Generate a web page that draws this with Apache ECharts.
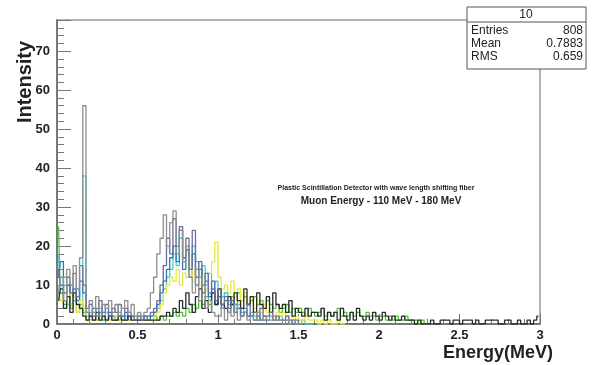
<!DOCTYPE html>
<html>
<head>
<meta charset="utf-8">
<style>
  html, body { margin: 0; padding: 0; background: #fff; }
  #chart { width: 592px; height: 365px; }
</style>
<script src="https://cdn.jsdelivr.net/npm/echarts@6/dist/echarts.min.js"></script>
</head>
<body>
<div id="chart"></div>
<script>
// histogram bins: 0 .. 3 MeV, width 0.02
var binWidth = 0.02;
var xTicks = ["0", "0.5", "1", "1.5", "2", "2.5", "3"];
var yTicks = ["0", "10", "20", "30", "40", "50", "60", "70"];

// counts per bin (missing bins at the end are empty)
var grayCounts = [
  8, 12, 6, 14, 10, 15, 9, 17, 56, 3,
  6, 3, 7, 2, 5, 4, 6, 3, 5, 2,
  4, 6, 3, 5, 2, 3, 2, 3, 4, 8,
  12, 18, 22, 28, 20, 26, 29, 18, 24, 16,
  20, 12, 8, 14, 6, 10, 4, 6, 3, 2,
  2, 4, 1, 3, 2, 5, 1, 2, 3, 1,
  2, 1, 3, 1, 2, 1, 1, 2, 1, 1,
  0, 1, 0, 1, 0, 0
];
var purpleCounts = [
  14, 10, 6, 12, 8, 13, 7, 15, 10, 4,
  5, 2, 4, 6, 3, 5, 2, 4, 3, 5,
  2, 4, 3, 2, 1, 2, 1, 2, 2, 3,
  4, 6, 10, 15, 22, 18, 27, 20, 25, 17,
  22, 14, 24, 12, 16, 10, 13, 8, 11, 6,
  9, 5, 7, 4, 6, 3, 4, 2, 3, 5,
  2, 3, 1, 4, 2, 2, 3, 1, 2, 1,
  1, 2, 1, 0, 1, 0
];
var cyanCounts = [
  18, 8, 12, 5, 10, 6, 9, 4, 38, 2,
  3, 1, 2, 4, 1, 3, 2, 1, 2, 3,
  1, 2, 1, 2, 1, 1, 2, 1, 1, 2,
  3, 4, 6, 9, 12, 14, 18, 15, 22, 17,
  19, 14, 20, 16, 12, 15, 10, 13, 8, 11,
  9, 7, 8, 5, 6, 4, 5, 3, 4, 2,
  3, 2, 3, 1, 2, 1, 2, 1, 1, 2,
  1, 1, 0, 1, 0, 0, 1, 0, 0, 0
];
var blueCounts = [
  12, 16, 8, 10, 5, 9, 6, 11, 8, 3,
  2, 4, 1, 3, 2, 1, 3, 2, 1, 2,
  1, 3, 1, 2, 1, 1, 1, 2, 1, 2,
  3, 5, 8, 11, 14, 17, 20, 16, 24, 14,
  19, 12, 18, 10, 14, 8, 11, 7, 9, 5,
  7, 4, 6, 3, 5, 3, 4, 2, 3, 2,
  2, 1, 2, 1, 1, 1
];
var yellowCounts = [
  10, 6, 4, 8, 5, 7, 3, 6, 4, 1,
  1, 2, 1, 1, 2, 1, 1, 1, 2, 1,
  1, 1, 1, 1, 2, 1, 1, 1, 1, 1,
  2, 3, 5, 8, 10, 12, 11, 14, 10, 13,
  12, 15, 11, 14, 10, 12, 9, 13, 16, 21,
  12, 9, 10, 8, 11, 7, 9, 6, 8, 5,
  7, 4, 6, 3, 5, 3, 4, 2, 3, 2,
  3, 2, 2, 1, 2, 1, 1, 2, 1, 1,
  1, 0, 1, 0, 1, 0, 0, 1, 0, 0
];
var greenCounts = [
  25, 8, 5, 10, 4, 7, 3, 5, 3, 1,
  1, 1, 2, 1, 1, 1, 2, 1, 1, 1,
  2, 1, 1, 1, 1, 2, 1, 1, 1, 1,
  2, 1, 2, 1, 2, 2, 3, 2, 3, 2,
  4, 3, 5, 4, 6, 5, 7, 5, 8, 6,
  9, 7, 8, 6, 7, 5, 8, 6, 7, 5,
  6, 7, 5, 6, 4, 6, 5, 4, 5, 3,
  4, 5, 3, 4, 3, 4, 3, 2, 4, 3,
  2, 3, 4, 2, 3, 2, 3, 4, 2, 3,
  2, 3, 2, 3, 2, 2, 3, 2, 2, 1,
  2, 2, 1, 2, 1, 2, 1, 1, 2, 1,
  1, 1, 0, 1, 0, 0
];
var blackCounts = [
  6, 9, 4, 7, 3, 8, 5, 4, 2, 1,
  2, 1, 3, 1, 2, 1, 2, 1, 1, 2,
  1, 1, 2, 1, 1, 1, 1, 1, 1, 1,
  1, 1, 2, 2, 3, 2, 4, 3, 6, 4,
  8, 5, 3, 7, 9, 4, 6, 3, 8, 5,
  9, 5, 4, 7, 5, 8, 6, 4, 9, 5,
  7, 3, 8, 5, 4, 7, 3, 8, 5, 4,
  5, 3, 6, 2, 4, 3, 2, 4, 2, 3,
  3, 2, 4, 1, 3, 2, 3, 1, 4, 2,
  1, 3, 1, 4, 2, 1, 2, 1, 3, 2,
  1, 3, 2, 1, 2, 1, 1, 2, 1, 1,
  1, 0, 1, 0, 0, 0, 1, 0, 0, 1,
  1, 1, 0, 1, 1, 0, 1, 1, 1, 0,
  1, 0, 0, 1, 1, 1, 1, 0, 0, 1,
  1, 0, 0, 1, 0, 0, 1, 0, 1, 2
];

var FONT = "'Liberation Sans', Arial, sans-serif";

// 把计数转成 [x, y]，x 取 bin 中心
function toPoints(counts) {
  return counts.map(function (v, i) {
    return [+(binWidth * i + binWidth / 2).toFixed(3), v];
  });
}

function histSeries(name, counts, color) {
  return {
    name: name,
    type: "line",
    step: "middle",
    symbol: "none",
    silent: true,
    data: toPoints(counts),
    lineStyle: { color: color, width: 1.3 },
  };
}

var myChart = echarts.init(document.getElementById("chart"), null, { renderer: "canvas" });

var option = {
  animation: false,
  backgroundColor: "#fff",
  grid: {
    left: 57,
    right: 52,
    top: 20,
    bottom: 41,
    show: true,
    borderColor: "#666",
    borderWidth: 1,
  },
  xAxis: {
    type: "value",
    min: 0,
    max: 3,
    interval: 0.5,
    axisLine: { onZero: false, lineStyle: { color: "#777", width: 2 } },
    axisTick: { inside: true, length: 10, lineStyle: { color: "#777" } },
    minorTick: { show: true, splitNumber: 5, length: 5, lineStyle: { color: "#777" } },
    splitLine: { show: false },
    axisLabel: {
      margin: 5,
      color: "#222",
      fontFamily: FONT,
      fontWeight: "bold",
      fontSize: 13,
      formatter: function (v) {
        var idx = Math.round(v / 0.5);
        return xTicks[idx] || "";
      },
    },
  },
  yAxis: {
    type: "value",
    min: 0,
    max: 78,
    interval: 10,
    axisLine: { show: true, onZero: false, lineStyle: { color: "#777", width: 2 } },
    axisTick: { show: true, inside: true, length: 14, lineStyle: { color: "#777" } },
    minorTick: { show: true, splitNumber: 5, length: 7, lineStyle: { color: "#777" } },
    splitLine: { show: false },
    axisLabel: {
      margin: 7,
      showMaxLabel: false,
      color: "#222",
      fontFamily: FONT,
      fontWeight: "bold",
      fontSize: 13,
      formatter: function (v) {
        var idx = Math.round(v / 10);
        return v % 10 === 0 ? (yTicks[idx] || "") : "";
      },
    },
  },
  series: [
    histSeries("green", greenCounts, "#55c23c"),
    histSeries("cyan", cyanCounts, "#3ccfd6"),
    histSeries("blue", blueCounts, "#3274b4"),
    histSeries("yellow", yellowCounts, "#e9e83a"),
    histSeries("black", blackCounts, "#2b2b2b"),
    histSeries("purple", purpleCounts, "#6c6c9e"),
    histSeries("gray", grayCounts, "#8e8e8e"),
  ],
  graphic: [
    // axis titles
    {
      type: "text",
      x: 25,
      y: 82,
      rotation: Math.PI / 2,
      style: {
        text: "Intensity",
        fill: "#222",
        font: "bold 20px " + FONT,
        align: "center",
        verticalAlign: "middle",
      },
    },
    {
      type: "text",
      x: 553,
      y: 353,
      style: {
        text: "Energy(MeV)",
        fill: "#222",
        font: "bold 18px " + FONT,
        align: "right",
        verticalAlign: "middle",
      },
    },
    // in-plot captions
    {
      type: "text",
      x: 376,
      y: 188,
      style: {
        text: "Plastic Scintillation Detector with wave length shifting fiber",
        fill: "#222",
        font: "bold 7px " + FONT,
        align: "center",
        verticalAlign: "middle",
      },
    },
    {
      type: "text",
      x: 381,
      y: 201,
      style: {
        text: "Muon Energy - 110 MeV - 180 MeV",
        fill: "#222",
        font: "bold 10px " + FONT,
        align: "center",
        verticalAlign: "middle",
      },
    },
    // stats box
    {
      type: "group",
      children: [
        {
          type: "rect",
          shape: { x: 467, y: 7, width: 119, height: 62 },
          style: { fill: "#fff", stroke: "#555", lineWidth: 1 },
        },
        {
          type: "line",
          shape: { x1: 467, y1: 22, x2: 586, y2: 22 },
          style: { stroke: "#555", lineWidth: 1 },
        },
        { type: "text", x: 526, y: 15, style: { text: "10", fill: "#222", font: "12px " + FONT, align: "center", verticalAlign: "middle" } },
        { type: "text", x: 471, y: 31, style: { text: "Entries", fill: "#222", font: "12px " + FONT, verticalAlign: "middle" } },
        { type: "text", x: 583, y: 31, style: { text: "808", fill: "#222", font: "12px " + FONT, align: "right", verticalAlign: "middle" } },
        { type: "text", x: 471, y: 44, style: { text: "Mean", fill: "#222", font: "12px " + FONT, verticalAlign: "middle" } },
        { type: "text", x: 583, y: 44, style: { text: "0.7883", fill: "#222", font: "12px " + FONT, align: "right", verticalAlign: "middle" } },
        { type: "text", x: 471, y: 57, style: { text: "RMS", fill: "#222", font: "12px " + FONT, verticalAlign: "middle" } },
        { type: "text", x: 583, y: 57, style: { text: "0.659", fill: "#222", font: "12px " + FONT, align: "right", verticalAlign: "middle" } },
      ],
    },
  ],
};

myChart.setOption(option);
</script>
</body>
</html>
